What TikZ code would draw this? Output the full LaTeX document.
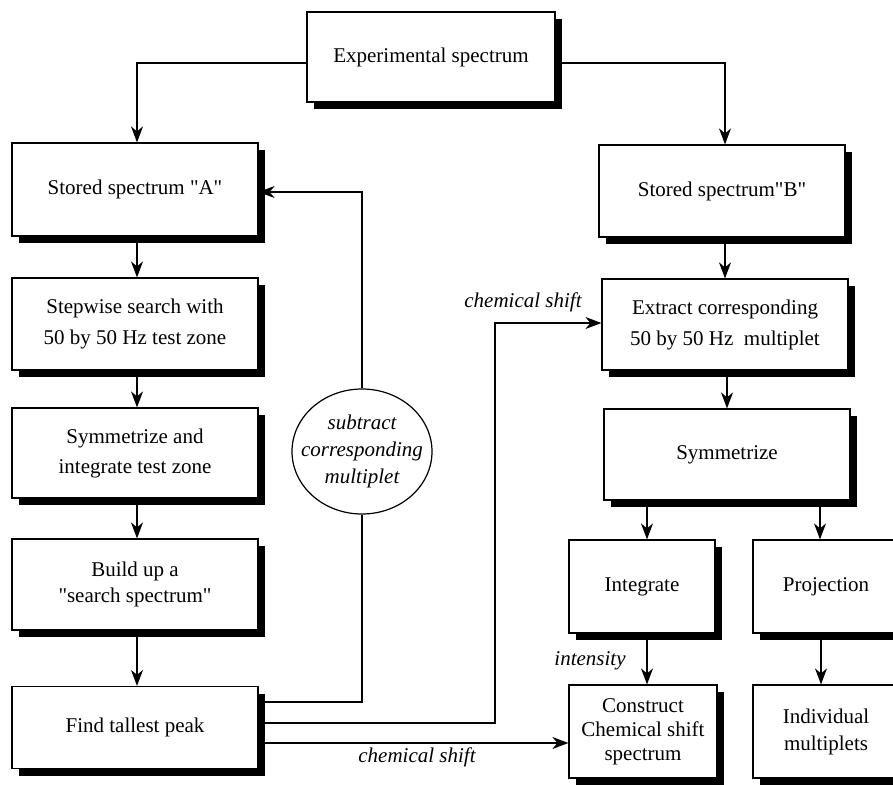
\documentclass[tikz,border=0pt]{standalone}
\usepackage{fontspec}
\setmainfont{Liberation Serif}
\usetikzlibrary{arrows.meta,shapes.geometric,shadows}
\begin{document}
\begin{tikzpicture}[x=1pt,y=-1pt,
  box/.style={draw, line width=1.2pt, fill=white, align=center, inner sep=0pt,
    font=\fontsize{21}{31}\selectfont,
    drop shadow={shadow xshift=7pt, shadow yshift=-7pt, fill=black, opacity=1}},
  conn/.style={line width=1.2pt},
  arr/.style={conn, -{Stealth[length=16pt,width=12pt,inset=5pt]}},
  lbl/.style={font=\fontsize{21}{26}\selectfont\itshape, inner sep=0pt}]
\useasboundingbox (0,0) rectangle (893,784);
\clip (0,0) rectangle (893,784);
\fill[white] (0,0) rectangle (893,784);

% nodes
\node[box, minimum width=248pt, minimum height=90pt] (top) at (431,57) {Experimental spectrum};
\node[box, minimum width=246pt, minimum height=93pt] (sA) at (135,189.5) {Stored spectrum \textquotedbl A\textquotedbl};
\node[box, minimum width=246pt, minimum height=92pt] (step) at (135,324) {Stepwise search with\\50 by 50 Hz test zone};
\node[box, minimum width=246pt, minimum height=90pt, font=\fontsize{21}{30}\selectfont] (symA) at (135,453) {Symmetrize and\\integrate test zone};
\node[box, minimum width=246pt, minimum height=91pt, font=\fontsize{21}{26}\selectfont] (build) at (135,584.5) {Build up a\\\textquotedbl search spectrum\textquotedbl};
\node[box, minimum width=246pt, minimum height=82pt] (find) at (135,727.5) {Find tallest peak};

\node[box, minimum width=246pt, minimum height=92pt] (sB) at (722,191) {Stored spectrum\textquotedbl B\textquotedbl};
\node[box, minimum width=246pt, minimum height=91pt] (ext) at (725,324.5) {Extract corresponding\\50 by 50 Hz\ \ multiplet};
\node[box, minimum width=246pt, minimum height=91pt] (symB) at (727,454.5) {Symmetrize};
\node[box, minimum width=146pt, minimum height=93pt] (integ) at (642,586.5) {Integrate};
\node[box, minimum width=146pt, minimum height=93pt] (proj) at (826,586.5) {Projection};
\node[box, minimum width=148pt, minimum height=93pt, font=\fontsize{21}{24}\selectfont] (constr) at (643,731.5) {Construct\\Chemical shift\\spectrum};
\node[box, minimum width=146pt, minimum height=93pt, font=\fontsize{21}{27}\selectfont] (indiv) at (826,731.5) {Individual\\multiplets};

\node[ellipse, draw, line width=1.2pt, fill=white, minimum width=140pt, minimum height=125pt, inner sep=0pt] (sub) at (362,451.5) {};
\node[lbl, align=center, font=\fontsize{21}{27}\selectfont\itshape] (subt) at (sub.center) {subtract\\corresponding\\multiplet};

% connectors
\draw[arr] ([yshift=-6pt]top.west) -| ([xshift=2pt]sA.north);
\draw[arr] ([yshift=-6pt]top.east) -| ([xshift=3pt]sB.north);

\draw[arr] ([xshift=2pt]sA.south) -- ([xshift=2pt]step.north);
\draw[arr] ([xshift=2pt]step.south) -- ([xshift=2pt]symA.north);
\draw[arr] ([xshift=2pt]symA.south) -- ([xshift=2pt]build.north);
\draw[arr] ([xshift=2pt]build.south) -- ([xshift=2pt]find.north);

\draw[arr] ([xshift=3pt]sB.south) -- (ext.north);
\draw[arr] ([xshift=2pt]ext.south) -- (symB.north);
\coordinate (c1) at ([xshift=5pt]integ.north);
\coordinate (c2) at ([xshift=-6pt]proj.north);
\draw[arr] (symB.south -| c1) -- (c1);
\draw[arr] (symB.south -| c2) -- (c2);
\draw[arr] ([xshift=5pt]integ.south) -- ([xshift=4pt]constr.north);
\draw[arr] ([xshift=-5pt]proj.south) -- ([xshift=-5pt]indiv.north);

\coordinate (f1) at ([yshift=25.5pt]find.east);
\coordinate (f2) at ([yshift=4.5pt]find.east);
\coordinate (f3) at ([yshift=-15.5pt]find.east);
\coordinate (k) at (495,0);
\coordinate (e) at ([yshift=1.5pt]ext.west);

\draw[conn] (f1) -| (sub.south);
\draw[arr] (sub.north) |- ([yshift=-2.5pt]sA.east);
\draw[arr] (f2) -| (k |- e) -- (e);
\draw[arr] (f3) -- (f3 -| constr.west);

% labels
\node[lbl] (l1) at (523,302) {chemical shift};
\node[lbl] (l2) at (417,757) {chemical shift};
\node[lbl] (l3) at (590,661) {intensity};
\end{tikzpicture}
\end{document}
